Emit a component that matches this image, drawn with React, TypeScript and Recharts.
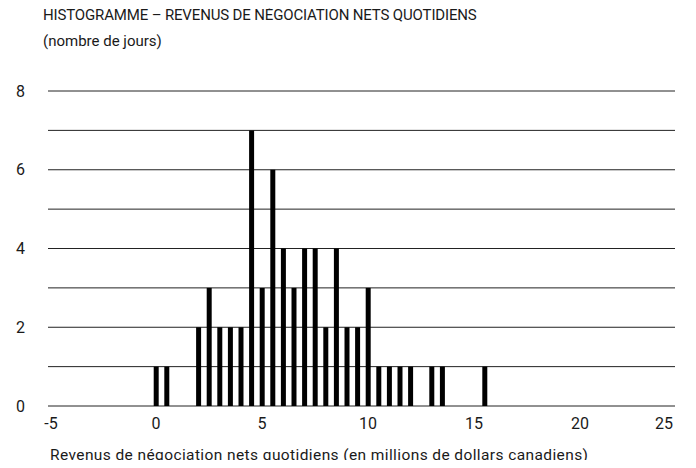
import React from "react";
import { Bar, BarChart, CartesianGrid, XAxis, YAxis } from "recharts";

// daily trading revenue bins (millions CAD) and number of days in each
const bins = [0, 0.5, 2, 2.5, 3, 3.5, 4, 4.5, 5, 5.5, 6, 6.5, 7, 7.5, 8, 8.5, 9, 9.5, 10, 10.5, 11, 11.5, 12, 13, 13.5, 15.5];
const days = [1, 1, 2, 3, 2, 2, 2, 7, 3, 6, 4, 3, 4, 4, 2, 4, 2, 2, 3, 1, 1, 1, 1, 1, 1, 1];

const xTicks = [-5, 0, 5, 10, 15, 20, 25];
const yTicks = [0, 2, 4, 6, 8];
const gridValues = [0, 1, 2, 3, 4, 5, 6, 7, 8];

const data = bins.map((b, i) => ({ bin: b, days: days[i] }));

const FONT = "Roboto, 'Liberation Sans', Arial, sans-serif";
const TEXT = "#1a1a1a";

function XTick(props: any) {
  const { x, y, payload } = props;
  // last label sits inside the right edge like the original
  const dx = payload.value === 25 ? -22 : payload.value === -5 ? 1 : 0;
  return (
    <text
      x={x + dx}
      y={y}
      dy="0.71em"
      textAnchor="middle"
      fontSize={16}
      fontFamily={FONT}
      fill={TEXT}
    >
      {payload.value}
    </text>
  );
}

function GridLine(props: any) {
  const { x1, x2, y1, y2 } = props;
  return <line x1={x1 - 2} x2={x2 - 11} y1={y1} y2={y2} stroke="#222" strokeWidth={1} />;
}

export default function App() {
  return (
    <div style={{ position: "relative", width: 680, height: 452, fontFamily: FONT, color: TEXT }}>
      <div
        style={{
          position: "absolute",
          left: 35,
          top: 0,
          fontSize: 15,
          lineHeight: "15px",
          letterSpacing: -0.15,
          whiteSpace: "nowrap",
        }}
      >
        HISTOGRAMME – REVENUS DE NÉGOCIATION NETS QUOTIDIENS
      </div>
      <div style={{ position: "absolute", left: 35, top: 26, fontSize: 15, lineHeight: "15px", whiteSpace: "nowrap" }}>
        (nombre de jours)
      </div>
      <BarChart
        width={680}
        height={452}
        data={data}
        margin={{ top: 83, right: 2, left: 0, bottom: 24 }}
      >
        <CartesianGrid
          vertical={false}
          horizontalValues={gridValues}
          horizontal={GridLine}
        />
        <XAxis
          dataKey="bin"
          type="number"
          domain={[-5, 25]}
          ticks={xTicks}
          allowDecimals
          axisLine={false}
          tickLine={false}
          tickSize={0}
          tickMargin={12}
          height={30}
          tick={<XTick />}
          interval={0}
        />
        <YAxis
          domain={[0, 8]}
          ticks={yTicks}
          axisLine={false}
          tickLine={false}
          tickSize={0}
          tickMargin={25}
          width={42}
          interval={0}
          tick={{ fontSize: 16, fontFamily: FONT, fill: TEXT }}
        />
        <Bar dataKey="days" fill="#000" barSize={5} isAnimationActive={false} />
      </BarChart>
      <div
        style={{
          position: "absolute",
          left: 42,
          top: 440,
          fontSize: 15.5,
          lineHeight: "15.5px",
          letterSpacing: 0.4,
          whiteSpace: "nowrap",
        }}
      >
        Revenus de négociation nets quotidiens (en millions de dollars canadiens)
      </div>
    </div>
  );
}
